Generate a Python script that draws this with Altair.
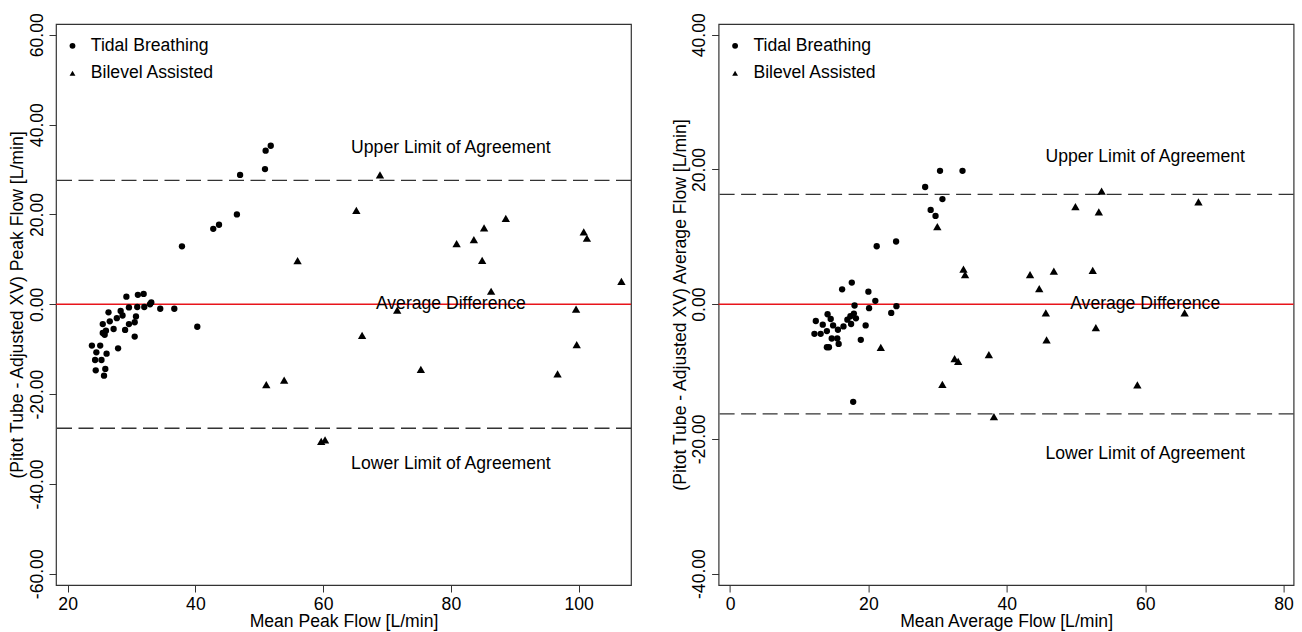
import altair as alt
import pandas as pd

FONT = "Liberation Sans, Arial, sans-serif"
FS = 17.6

# ---------------- data ----------------
groups = ["Tidal Breathing", "Bilevel Assisted"]
shapes = ["circle", "triangle-up"]
marker_sizes = [40, 70]

# Left panel: peak flow
peak_tidal_x = [29.2, 31.0, 31.9, 33.1, 32.9, 34.5, 36.7, 40.3, 29.6, 30.9, 32.0, 26.4,
                28.3, 28.6, 27.7, 26.6, 25.5, 30.7, 30.5, 29.6, 29.0, 27.2, 25.5, 25.8,
                26.0, 30.5, 27.9, 23.8, 25.1, 24.5, 26.1, 24.3, 25.3, 24.4, 25.9, 25.7,
                51.8, 51.0, 50.9, 47.0, 46.5, 43.7, 42.8, 37.9]
peak_tidal_y = [1.7, 2.1, 2.3, 0.4, 0.0, -1.0, -1.0, -5.0, -0.7, -0.6, -0.6, -1.8,
                -1.5, -2.5, -3.1, -3.8, -4.4, -2.7, -4.0, -4.4, -5.7, -5.5, -6.4, -6.8,
                -5.9, -7.2, -9.8, -9.2, -9.2, -10.7, -11.0, -12.4, -12.4, -14.7, -14.4, -15.9,
                35.3, 34.2, 30.1, 28.8, 20.0, 17.7, 16.8, 12.9]
peak_bilevel_x = [68.9, 65.2, 56.0, 51.1, 53.9, 59.7, 60.3, 66.1, 71.6, 75.3, 80.9,
                  83.6, 85.2, 84.9, 86.3, 88.6, 96.7, 99.6, 99.7, 100.8, 101.3, 106.7]
peak_bilevel_y = [28.8, 20.9, 9.7, -17.9, -16.9, -30.5, -30.2, -6.9, -1.3, -14.5, 13.5,
                  14.4, 17.0, 9.8, 2.9, 19.1, -15.5, -1.1, -9.0, 16.1, 14.7, 5.1]

# Right panel: average flow
avg_tidal_x = [30.35, 33.6, 28.2, 30.7, 29.0, 29.7, 21.2, 24.0,
               16.2, 17.6, 20.0, 21.0, 18.0, 20.1, 24.05, 23.3, 12.4, 14.1, 14.55, 16.96,
               17.4, 17.9, 18.2, 17.5, 19.6, 13.4, 14.9, 16.4, 14.0, 15.6, 12.2, 13.1,
               14.7, 15.5, 15.7, 18.9, 14.0, 14.3, 17.8]
avg_tidal_y = [19.8, 19.8, 17.4, 15.6, 14.0, 13.1, 8.6, 9.3,
               2.2, 3.2, 1.85, 0.5, -0.2, -0.6, -0.3, -1.3, -2.5, -1.5, -2.2, -2.3,
               -1.8, -1.4, -2.1, -2.95, -3.15, -3.05, -3.15, -3.3, -4.0, -3.8, -4.4, -4.4,
               -5.1, -5.1, -5.9, -5.3, -6.4, -6.4, -14.5]
avg_bilevel_x = [29.96, 33.74, 33.97, 21.79, 30.69, 32.46, 32.97, 37.41, 38.14, 43.36, 44.69,
                 46.8, 45.64, 45.75, 49.92, 53.7, 53.3, 52.42, 52.87, 58.87, 65.7, 67.7]
avg_bilevel_y = [11.5, 5.2, 4.4, -6.4, -11.9, -8.1, -8.5, -7.5, -16.7, 4.4, 2.3,
                 4.9, -1.3, -5.3, 14.5, 16.8, 13.7, 5.0, -3.5, -12.0, -1.3, 15.2]

mean_diff = [0.0]
peak_limits = [27.6, -27.6]
avg_limits = [16.3, -16.3]

ann_text = ["Upper Limit of Agreement", "Average Difference", "Lower Limit of Agreement"]
peak_ann_x = [80, 80, 80]
peak_ann_y = [34.7, 0.0, -35.5]
avg_ann_x = [60, 60, 60]
avg_ann_y = [21.9, 0.0, -22.3]

peak_x_ticks = [20, 40, 60, 80, 100]
peak_y_ticks = [-60, -40, -20, 0, 20, 40, 60]
avg_x_ticks = [0, 20, 40, 60, 80]
avg_y_ticks = [-40, -20, 0, 20, 40]

peak_x_domain = [18.18, 108.2]
peak_y_domain = [-62.5, 62.4]
avg_x_domain = [-1.65, 81.45]
avg_y_domain = [-41.7, 41.6]


LABEL_EXPR = ("datum.value < 0 ? '-' + format(-datum.value, '.2f') : "
              "format(datum.value, '.2f')")


def panel(tx, ty, bx, by, limits, ax, ay, xdom, ydom, xticks, yticks, xtitle, ytitle):
    x = alt.X("x:Q", scale=alt.Scale(domain=xdom, nice=False, zero=False),
              axis=alt.Axis(values=xticks, title=xtitle, labelFlush=False,
                            labelPadding=3, titlePadding=0))
    y = alt.Y("y:Q", scale=alt.Scale(domain=ydom, nice=False, zero=False),
              axis=alt.Axis(values=yticks, title=ytitle, labelAngle=-90,
                            labelAlign="center", labelBaseline="alphabetic",
                            labelPadding=7, titlePadding=1.5, labelExpr=LABEL_EXPR))
    shape = alt.Shape("group:N", scale=alt.Scale(domain=groups, range=shapes),
                      legend=alt.Legend(title=None, orient="none", legendX=7.7,
                                        legendY=13,
                                        labelFont=FONT, labelFontSize=FS,
                                        labelColor="black", symbolSize=34,
                                        symbolFillColor="black",
                                        symbolStrokeColor="black",
                                        symbolStrokeWidth=0, labelOffset=9.5,
                                        rowPadding=8.5, padding=0))
    layers = []
    lim_df = pd.DataFrame({"y": limits})
    layers.append(alt.Chart(lim_df).mark_rule(color="#333333", strokeWidth=1.3,
                                              strokeDash=[15, 6.5]).encode(y=y))
    layers.append(alt.Chart(pd.DataFrame({"y": mean_diff})).mark_rule(
        color="#e8141b", strokeWidth=1.5).encode(y=y))
    for g, xs, ys, sz in [(groups[0], tx, ty, marker_sizes[0]),
                          (groups[1], bx, by, marker_sizes[1])]:
        df = pd.DataFrame({"x": xs, "y": ys, "group": [g] * len(xs)})
        layers.append(alt.Chart(df).mark_point(filled=True, color="black", opacity=1,
                                               strokeWidth=0, size=sz).encode(
            x=x, y=y, shape=shape))
    layers.append(alt.Chart(pd.DataFrame({"x": ax, "y": ay, "t": ann_text})).mark_text(
        font=FONT, fontSize=FS, color="black", align="center", baseline="middle"
    ).encode(x=x, y=y, text="t:N"))
    return alt.layer(*layers).properties(width=575, height=561)


left = panel(peak_tidal_x, peak_tidal_y, peak_bilevel_x, peak_bilevel_y,
             peak_limits, peak_ann_x, peak_ann_y, peak_x_domain, peak_y_domain,
             peak_x_ticks, peak_y_ticks, "Mean Peak Flow [L/min]",
             "(Pitot Tube - Adjusted XV) Peak Flow [L/min]")
right = panel(avg_tidal_x, avg_tidal_y, avg_bilevel_x, avg_bilevel_y,
              avg_limits, avg_ann_x, avg_ann_y, avg_x_domain, avg_y_domain,
              avg_x_ticks, avg_y_ticks, "Mean Average Flow [L/min]",
              "(Pitot Tube - Adjusted XV) Average Flow [L/min]")

chart = alt.hconcat(left, right, spacing=87.6, bounds="flush").resolve_scale(
    x="independent", y="independent", shape="independent"
).resolve_legend(shape="independent").properties(
    padding={"left": 7, "top": 12, "right": 5, "bottom": 0},
    background="white",
).configure_view(stroke="#333333", strokeWidth=1.2).configure_axis(
    domain=False, grid=False, tickColor="#333333", tickSize=7, tickWidth=1,
    labelFont=FONT, labelFontSize=FS, labelColor="black",
    titleFont=FONT, titleFontSize=FS, titleFontWeight="normal", titleColor="black",
)

chart.save("out.html", embed_options={"renderer": "svg", "actions": False})
